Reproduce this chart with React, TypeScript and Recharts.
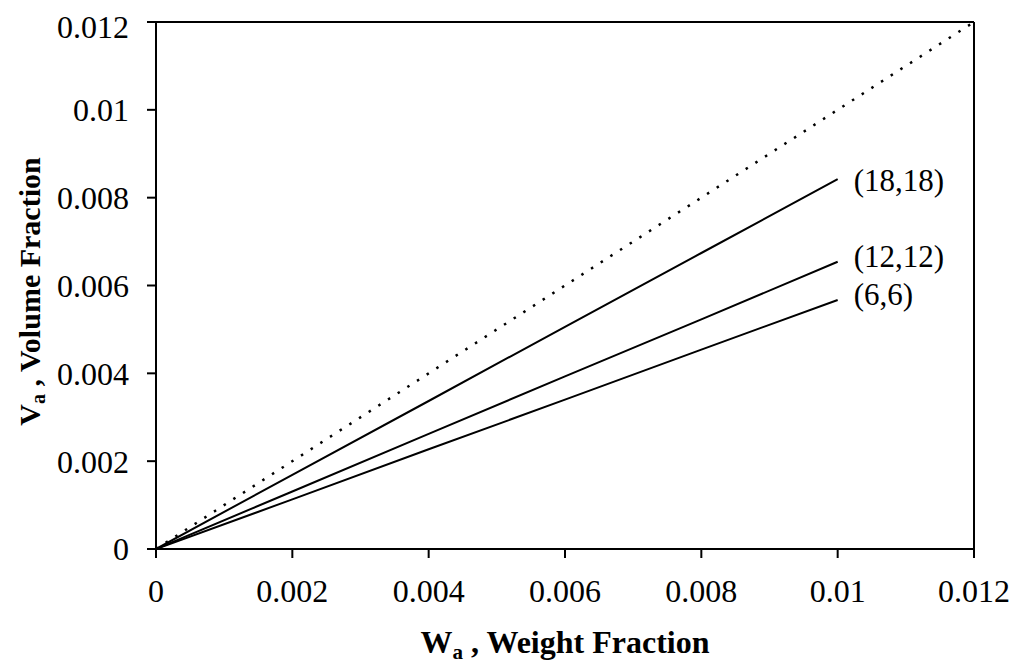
import React from "react";
import { LineChart, Line, XAxis, YAxis, ReferenceLine } from "recharts";

const weightFractions = [0, 0.002, 0.004, 0.006, 0.008, 0.01];
const vol18 = [0, 0.00169, 0.00337, 0.00506, 0.00674, 0.00842];
const vol12 = [0, 0.00131, 0.00262, 0.00393, 0.00523, 0.00654];
const vol6 = [0, 0.00113, 0.00227, 0.0034, 0.00454, 0.00567];
const diagX = [0, 0.012];
const diagY = [0, 0.012];
const seriesLabels = ["(18,18)", "(12,12)", "(6,6)"];
const ticks = [0, 0.002, 0.004, 0.006, 0.008, 0.01, 0.012];

const build = (xs: number[], ys: number[]) => xs.map((x, i) => ({ x, y: ys[i] }));
const d18 = build(weightFractions, vol18);
const d12 = build(weightFractions, vol12);
const d6 = build(weightFractions, vol6);
const dDiag = build(diagX, diagY);

const FONT = "'Liberation Serif', 'Times New Roman', serif";

const endLabel = (text: string, last: number, dy: number) => (props: any) => {
  if (props.index !== last) return null;
  return (
    <text x={props.x + 16} y={props.y + dy} fontFamily={FONT} fontSize={31} fill="#000" dominantBaseline="central">
      {text}
    </text>
  );
};

const fmt = (v: number) => (v === 0 ? "0" : String(Number(v.toFixed(3))));

const XTitle = (props: any) => {
  const vb = props.viewBox;
  return (
    <text x={vb.x + vb.width / 2} y={vb.y + 104} textAnchor="middle" fontFamily={FONT} fontSize={32} fontWeight="bold" fill="#000">
      <tspan>W</tspan>
      <tspan fontSize={21} dy={6}>a</tspan>
      <tspan dy={-6}> , Weight Fraction</tspan>
    </text>
  );
};

const YTitle = (props: any) => {
  const vb = props.viewBox;
  const cx = 32;
  const cy = vb.y + vb.height / 2 + 6;
  return (
    <text x={cx} y={cy} transform={`rotate(-90, ${cx}, ${cy})`} textAnchor="middle" fontFamily={FONT} fontSize={30} fontWeight="bold" fill="#000">
      <tspan>V</tspan>
      <tspan fontSize={20} dy={5}>a</tspan>
      <tspan dy={-5}> , Volume Fraction</tspan>
    </text>
  );
};

export default function App() {
  return (
    <LineChart width={1009} height={659} margin={{ top: 14, right: 43, left: 0, bottom: 0 }}>
      <XAxis
        dataKey="x"
        type="number"
        domain={[0, 0.012]}
        ticks={ticks}
        tickFormatter={fmt}
        height={118}
        tickSize={9}
        tickMargin={21}
        stroke="#000"
        strokeWidth={2}
        tick={{ fill: "#000", fontFamily: FONT, fontSize: 32 }}
        label={{ content: XTitle }}
        allowDataOverflow
      />
      <YAxis
        type="number"
        domain={[0, 0.012]}
        ticks={ticks}
        tickFormatter={fmt}
        width={148}
        tickSize={9}
        tickMargin={18}
        stroke="#000"
        strokeWidth={2}
        tick={{ fill: "#000", fontFamily: FONT, fontSize: 32 }}
        label={{ content: YTitle }}
        allowDataOverflow
      />
      <ReferenceLine y={0.012} stroke="#000" strokeWidth={2} />
      <ReferenceLine x={0.012} stroke="#000" strokeWidth={2} />
      <Line data={dDiag} dataKey="y" type="linear" stroke="#000" strokeWidth={2.5} strokeDasharray="2.5 9" dot={false} isAnimationActive={false} />
      <Line data={d18} dataKey="y" type="linear" stroke="#000" strokeWidth={2} dot={false} isAnimationActive={false} label={endLabel(seriesLabels[0], 5, 1)} />
      <Line data={d12} dataKey="y" type="linear" stroke="#000" strokeWidth={2} dot={false} isAnimationActive={false} label={endLabel(seriesLabels[1], 5, -5)} />
      <Line data={d6} dataKey="y" type="linear" stroke="#000" strokeWidth={2} dot={false} isAnimationActive={false} label={endLabel(seriesLabels[2], 5, -5)} />
    </LineChart>
  );
}
